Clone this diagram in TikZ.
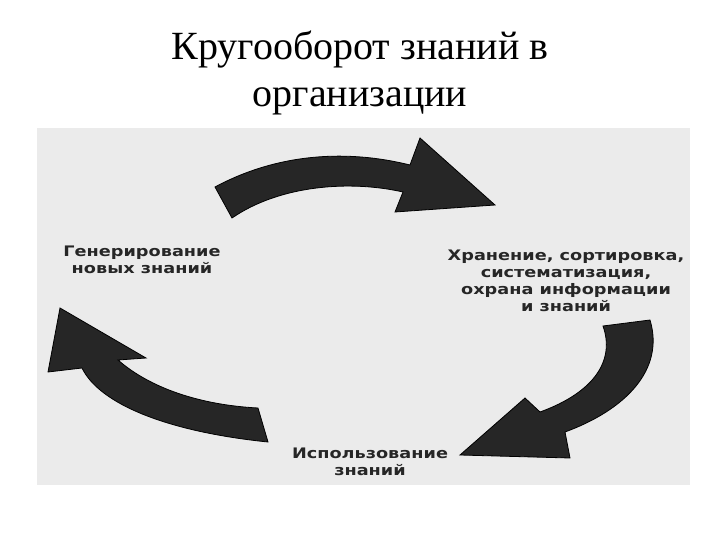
\documentclass[tikz,border=0pt]{standalone}
\usepackage{fontspec}
\setmainfont{Liberation Serif}
\newfontfamily\lab[FakeStretch=1.22]{DejaVu Sans}
\begin{document}
\begin{tikzpicture}[x=1pt,y=-1pt,
  arr/.style={fill=black!85,draw=black,line width=0.8pt},
  lbl/.style={font=\lab\bfseries\fontsize{14.5}{17}\selectfont,align=center,text=black!85}]
\useasboundingbox (0,0) rectangle (720,540);
\fill[white] (0,0) rectangle (720,540);
\fill[black!8] (37,128) rectangle (690,485);
\node[font=\fontsize{40}{47}\selectfont,align=center] (title) at (360,73) {Кругооборот знаний в\\организации};
% top arrow
\path[arr] (215,187) .. controls (280,152) and (350,150) .. (410,165)
  -- (420,138) -- (495,205) -- (395,212) -- (403,192)
  .. controls (350,180) and (280,185) .. (232,218) -- cycle;
% right arrow
\path[arr] (650,320) .. controls (665,370) and (625,410) .. (565,432)
  -- (570,458) -- (460,455) -- (525,398) -- (540,412)
  .. controls (595,392) and (615,360) .. (603,326) -- cycle;
% left arrow
\path[arr] (268,442) .. controls (170,432) and (100,405) .. (82,368)
  -- (48,372) -- (60,308) -- (146,358) -- (118,360)
  .. controls (150,388) and (200,405) .. (258,408) -- cycle;
\node[lbl] (gen) at (142,260) {Генерирование\\новых знаний};
\node[lbl] (store) at (566,281) {Хранение, сортировка,\\систематизация,\\охрана информации\\и знаний};
\node[lbl] (use) at (370,462) {Использование\\знаний};
\end{tikzpicture}
\end{document}
